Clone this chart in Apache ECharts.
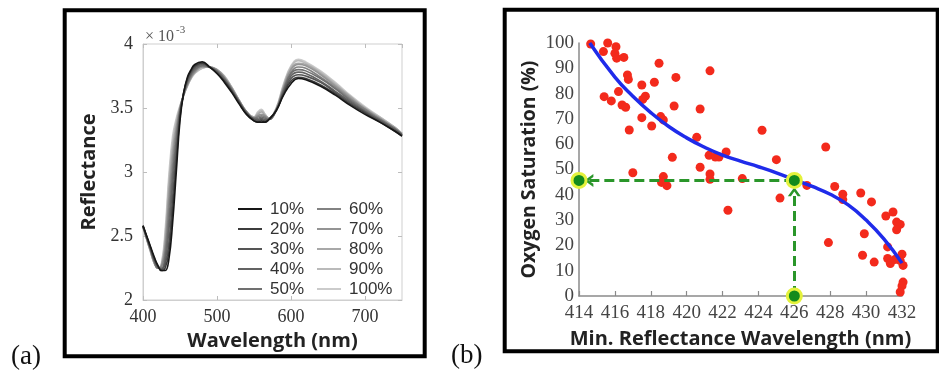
<!DOCTYPE html>
<html>
<head>
<meta charset="utf-8">
<script src="https://cdn.jsdelivr.net/npm/echarts@6/dist/echarts.min.js"></script>
<style>
  html, body { margin: 0; padding: 0; background: #fff; }
  #chart { width: 939px; height: 378px; }
</style>
</head>
<body>
<div id="chart"></div>
<script>
// ---- Panel (a): reflectance spectra (values in units of 1e-3) ----
const wavelengths = [400,410,415,420,425,430,435,440,445,450,455,460,465,470,480,490,500,510,520,530,540,550,555,560,565,570,580,590,600,610,620,640,660,680,700,720,740,750];

const spec10  = [2.58,2.42,2.34,2.27,2.23,2.23,2.32,2.60,3.00,3.40,3.62,3.74,3.80,3.84,3.86,3.82,3.77,3.70,3.62,3.53,3.45,3.40,3.39,3.39,3.39,3.41,3.48,3.60,3.69,3.73,3.72,3.67,3.60,3.52,3.45,3.39,3.32,3.28];
const spec20  = [2.58,2.41,2.33,2.27,2.23,2.25,2.38,2.70,3.08,3.43,3.62,3.73,3.79,3.83,3.85,3.82,3.77,3.71,3.63,3.54,3.45,3.40,3.39,3.40,3.39,3.41,3.48,3.61,3.71,3.74,3.73,3.68,3.61,3.53,3.46,3.39,3.32,3.28];
const spec30  = [2.58,2.41,2.32,2.26,2.24,2.28,2.45,2.80,3.14,3.45,3.62,3.72,3.78,3.82,3.85,3.82,3.78,3.71,3.63,3.54,3.46,3.41,3.40,3.41,3.40,3.41,3.48,3.62,3.73,3.76,3.75,3.70,3.62,3.54,3.47,3.40,3.33,3.29];
const spec40  = [2.58,2.40,2.31,2.26,2.24,2.31,2.55,2.90,3.20,3.47,3.61,3.71,3.77,3.81,3.84,3.82,3.78,3.72,3.64,3.55,3.46,3.41,3.41,3.42,3.41,3.41,3.48,3.63,3.75,3.78,3.77,3.71,3.63,3.55,3.47,3.40,3.33,3.29];
const spec50  = [2.57,2.40,2.31,2.25,2.25,2.35,2.63,2.98,3.25,3.48,3.61,3.70,3.76,3.80,3.83,3.82,3.79,3.73,3.64,3.55,3.46,3.42,3.42,3.43,3.42,3.41,3.48,3.64,3.77,3.80,3.79,3.73,3.65,3.56,3.48,3.41,3.34,3.29];
const spec60  = [2.57,2.39,2.30,2.25,2.26,2.39,2.72,3.05,3.30,3.49,3.61,3.69,3.75,3.79,3.83,3.82,3.79,3.73,3.65,3.55,3.47,3.42,3.43,3.44,3.43,3.41,3.49,3.65,3.78,3.82,3.81,3.74,3.66,3.57,3.49,3.41,3.34,3.29];
const spec70  = [2.57,2.39,2.30,2.25,2.27,2.43,2.80,3.12,3.34,3.50,3.60,3.68,3.74,3.78,3.82,3.82,3.80,3.74,3.65,3.56,3.47,3.42,3.44,3.45,3.44,3.42,3.49,3.66,3.80,3.84,3.83,3.76,3.67,3.58,3.49,3.42,3.34,3.30];
const spec80  = [2.57,2.38,2.29,2.25,2.27,2.47,2.87,3.18,3.37,3.51,3.60,3.68,3.74,3.78,3.82,3.82,3.80,3.74,3.66,3.56,3.47,3.43,3.45,3.47,3.44,3.42,3.49,3.67,3.81,3.85,3.84,3.77,3.68,3.59,3.50,3.42,3.35,3.30];
const spec90  = [2.57,2.38,2.29,2.25,2.28,2.51,2.93,3.23,3.40,3.51,3.60,3.67,3.73,3.77,3.81,3.82,3.80,3.75,3.66,3.56,3.47,3.43,3.46,3.48,3.45,3.42,3.50,3.68,3.82,3.87,3.85,3.78,3.69,3.59,3.50,3.43,3.35,3.30];
const spec100 = [2.57,2.38,2.29,2.25,2.29,2.55,2.98,3.28,3.42,3.52,3.60,3.67,3.73,3.77,3.81,3.82,3.80,3.75,3.66,3.56,3.47,3.43,3.47,3.49,3.45,3.42,3.50,3.69,3.83,3.88,3.86,3.79,3.70,3.60,3.51,3.43,3.35,3.30];

const saturationNames = ['10%','20%','30%','40%','50%','60%','70%','80%','90%','100%'];
const spectra = [spec10, spec20, spec30, spec40, spec50, spec60, spec70, spec80, spec90, spec100];
const grayShades = ['#161616','#3c3c3c','#555555','#636363','#707070','#828282','#949494','#a8a8a8','#bababa','#cbcbcb'];

// ---- Panel (b): oxygen saturation vs. wavelength of minimum reflectance ----
const minWl = [414.65,415.36,415.6,416.06,416.0,416.1,416.5,416.7,416.75,415.4,415.8,416.2,416.4,416.6,416.8,417.0,417.5,417.7,417.55,417.5,418.05,418.2,418.46,418.55,418.7,419.4,419.3,419.2,418.7,418.6,418.9,420.56,420.75,421.3,420.75,421.3,421.3,421.25,421.6,421.8,422.2,422.3,423.1,424.2,425.0,425.2,426.7,427.75,427.9,428.25,428.7,428.7,429.7,430.3,429.9,429.8,430.45,431.1,431.5,431.7,431.9,431.7,431.2,431.2,431.35,431.6,432.0,432.06,432.06,432.0,431.9,431.9];
const satValues = [99.6,96.6,100,98.5,95.9,94,94.3,87.4,85.6,78.8,77.1,80.8,75.5,74.6,65.6,48.7,83.4,79,77.7,70.5,67.2,84.5,92,70.9,69.6,86.4,75.1,54.8,47.2,44.9,43.6,62.7,73.9,89,50.9,48.2,46.1,55.6,54.9,54.9,56.9,33.9,46.4,65.5,53.9,38.7,43.7,58.9,21.1,43.3,40.2,38.1,40.7,37.2,24.6,16.1,13.4,31.6,33.2,29.2,28.3,26.2,19.4,14.8,12.8,14.4,16.5,12.1,5.5,4,1.6,14];

// fitted calibration curve
const fitWl  = [414.6, 416, 417, 418, 419, 420, 421, 422, 423, 424, 425, 426, 427, 428, 429, 430, 431, 432];
const fitSat = [100, 86.5, 79, 72.5, 67, 62.5, 58.8, 55.7, 53.3, 51.1, 48.7, 46.0, 43.3, 40.2, 36.0, 30.0, 22.5, 13];

// read-out example: measured minimum at 426 nm -> saturation
const readWl = 426;
const readSat = 45.7;
const readArrowTipWl = 414.55;
const readArrowTipSat = 41.2;

const chevron = 'path://M0,10 L5,0 L10,10 L7.6,10 L5,4.6 L2.4,10 Z';

const serif = '"Liberation Serif", "DejaVu Serif", serif';
const boldSans = '"Open Sans", "DejaVu Sans", sans-serif';
const plainSans = '"Liberation Sans", Arial, sans-serif';

const chart = echarts.init(document.getElementById('chart'), null, { renderer: 'canvas' });

const spectrumSeries = spectra.map((vals, i) => ({
  name: saturationNames[i],
  type: 'line',
  xAxisIndex: 0,
  yAxisIndex: 0,
  data: wavelengths.map((w, k) => [w, vals[k]]),
  smooth: 0.45,
  showSymbol: false,
  symbol: 'none',
  color: grayShades[i],
  lineStyle: { width: 1.6, color: grayShades[i] },
  z: 20 - i,
  silent: true
}));

const option = {
  animation: false,
  backgroundColor: '#ffffff',
  grid: [
    { left: 143, top: 44, width: 259, height: 256, show: true, borderColor: '#cfcfcf', borderWidth: 1, backgroundColor: 'transparent' },
    { left: 579, top: 43, width: 323, height: 253, show: false }
  ],
  xAxis: [
    {
      gridIndex: 0, type: 'value', min: 400, max: 750, interval: 100,
      name: 'Wavelength (nm)', nameLocation: 'middle', nameGap: 29,
      nameTextStyle: { fontFamily: boldSans, fontWeight: 'bold', fontSize: 20, color: '#222' },
      axisLine: { show: true, lineStyle: { color: '#cfcfcf' } },
      axisTick: { show: true, inside: true, length: 4, lineStyle: { color: '#bdbdbd' } },
      axisLabel: { fontFamily: serif, fontSize: 18, color: '#333', margin: 8, showMaxLabel: false },
      splitLine: { show: false }
    },
    {
      gridIndex: 0, type: 'value', min: 400, max: 750, interval: 100, position: 'top',
      axisLine: { show: false },
      axisTick: { show: true, inside: true, length: 4, lineStyle: { color: '#bdbdbd' } },
      axisLabel: { show: false }, splitLine: { show: false }
    },
    {
      gridIndex: 1, type: 'value', min: 414, max: 432, interval: 2,
      name: 'Min. Reflectance Wavelength (nm)', nameLocation: 'middle', nameGap: 33,
      nameTextStyle: { fontFamily: boldSans, fontWeight: 'bold', fontSize: 20, color: '#222' },
      axisLine: { show: true, onZero: false, lineStyle: { color: '#8a8a8a', width: 1.5 } },
      axisTick: { show: true, inside: true, length: 5, lineStyle: { color: '#8a8a8a', width: 1.2 } },
      axisLabel: { fontFamily: serif, fontSize: 19, color: '#444', margin: 8, showMinLabel: true, showMaxLabel: true },
      splitLine: { show: false }
    }
  ],
  yAxis: [
    {
      gridIndex: 0, type: 'value', min: 2, max: 4, interval: 0.5,
      name: 'Reflectance', nameLocation: 'middle', nameGap: 44, nameRotate: 90,
      nameTextStyle: { fontFamily: boldSans, fontWeight: 'bold', fontSize: 20, color: '#222' },
      axisLine: { show: true, lineStyle: { color: '#cfcfcf' } },
      axisTick: { show: true, inside: true, length: 4, lineStyle: { color: '#bdbdbd' } },
      axisLabel: { fontFamily: serif, fontSize: 18, color: '#333', margin: 10 },
      splitLine: { show: false }
    },
    {
      gridIndex: 0, type: 'value', min: 2, max: 4, interval: 0.5, position: 'right',
      axisLine: { show: false },
      axisTick: { show: true, inside: true, length: 4, lineStyle: { color: '#bdbdbd' } },
      axisLabel: { show: false }, splitLine: { show: false }
    },
    {
      gridIndex: 1, type: 'value', min: 0, max: 100, interval: 10,
      name: 'Oxygen Saturation (%)', nameLocation: 'middle', nameGap: 40, nameRotate: 90,
      nameTextStyle: { fontFamily: boldSans, fontWeight: 'bold', fontSize: 19.5, color: '#222' },
      axisLine: { show: true, onZero: false, lineStyle: { color: '#8a8a8a', width: 1.5 } },
      axisTick: { show: false },
      axisLabel: { fontFamily: serif, fontSize: 19, color: '#444', margin: 5 },
      splitLine: { show: false }
    }
  ],
  legend: [
    {
      data: saturationNames.slice(0, 5), orient: 'vertical', left: 233, top: 194,
      itemWidth: 24, itemHeight: 2, itemGap: 0, icon: 'rect',
      textStyle: { fontFamily: plainSans, fontSize: 17, color: '#333', lineHeight: 20, padding: [0, 0, 0, 3] },
      selectedMode: false
    },
    {
      data: saturationNames.slice(5), orient: 'vertical', left: 312, top: 194,
      itemWidth: 24, itemHeight: 2, itemGap: 0, icon: 'rect',
      textStyle: { fontFamily: plainSans, fontSize: 17, color: '#333', lineHeight: 20, padding: [0, 0, 0, 3] },
      selectedMode: false
    }
  ],
  series: spectrumSeries.concat([
    {
      name: 'measurements',
      type: 'scatter',
      xAxisIndex: 2, yAxisIndex: 2,
      data: minWl.map((w, k) => [w, satValues[k]]),
      symbolSize: 9,
      itemStyle: { color: '#f32a1c', opacity: 1 },
      clip: false,
      z: 3,
      silent: true
    },
    {
      name: 'fit',
      type: 'line',
      xAxisIndex: 2, yAxisIndex: 2,
      data: fitWl.map((w, k) => [w, fitSat[k]]),
      smooth: 0.5,
      showSymbol: false, symbol: 'none',
      lineStyle: { color: '#1f2bea', width: 3.5 },
      z: 4,
      silent: true,
      markLine: {
        silent: true,
        symbol: ['none', chevron],
        symbolSize: [13, 9],
        label: { show: false },
        lineStyle: { color: '#2a962a', width: 3, type: [10, 5] },
        data: [
          [{ coord: [readWl, readSat] }, { coord: [readArrowTipWl, readSat] }],
          [{ coord: [readWl, 0] }, { coord: [readWl, readArrowTipSat] }]
        ],
        z: 5
      }
    },
    {
      name: 'readout',
      type: 'scatter',
      xAxisIndex: 2, yAxisIndex: 2,
      data: [[414, readSat], [readWl, readSat], [readWl, 0]],
      symbolSize: 14,
      itemStyle: { color: '#138a1c', borderColor: '#e4f23c', borderWidth: 3, opacity: 1 },
      clip: false,
      z: 10,
      silent: true
    }
  ]),
  graphic: [
    { type: 'rect', shape: { x: 64.7, y: 10.3, width: 360, height: 346 },
      style: { fill: 'none', stroke: '#000', lineWidth: 4 }, z: 100 },
    { type: 'rect', shape: { x: 504.7, y: 9.8, width: 433, height: 341.5 },
      style: { fill: 'none', stroke: '#000', lineWidth: 4 }, z: 100 },
    { type: 'text', left: 145, top: 29,
      style: { text: '\u00d7 10', fontFamily: serif, fontSize: 16, fill: '#555' } },
    { type: 'text', left: 176, top: 25,
      style: { text: '-3', fontFamily: serif, fontSize: 11, fill: '#555' } },
    { type: 'text', left: 11, top: 343,
      style: { text: '(a)', fontFamily: serif, fontSize: 27, fill: '#111' } },
    { type: 'text', left: 451, top: 342,
      style: { text: '(b)', fontFamily: serif, fontSize: 27, fill: '#111' } }
  ]
};

chart.setOption(option);
</script>
</body>
</html>
